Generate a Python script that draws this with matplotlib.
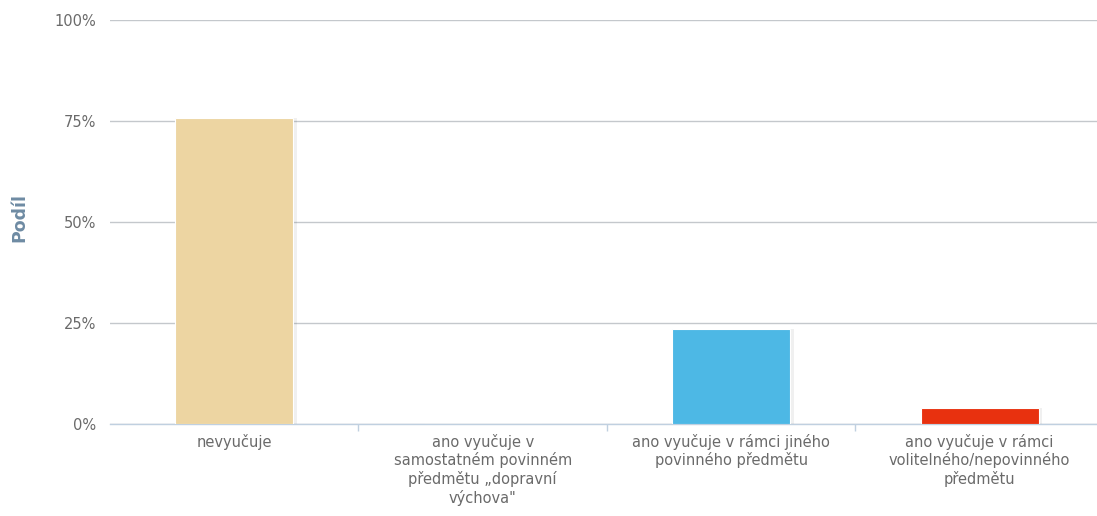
import matplotlib
matplotlib.use("Agg")
import matplotlib.pyplot as plt
from matplotlib.ticker import FixedLocator

plt.rcParams["font.family"] = ["DejaVu Sans"]

categories = [
    "nevyučuje",
    "ano vyučuje v\nsamostatném povinném\npředmětu „dopravní\nvýchova\"",
    "ano vyučuje v rámci jiného\npovinného předmětu",
    "ano vyučuje v rámci\nvolitelného/nepovinného\npředmětu",
]
shares = [75.7, 0.0, 23.4, 4.0]
colors = ["#edd5a2", "#8fd08a", "#4db8e5", "#e8310f"]
yticks = [0, 25, 50, 75, 100]

fig = plt.figure(figsize=(10.97, 5.16), dpi=100)
ax = fig.add_axes([0.1003, 0.1783, 0.906, 0.7829])

x = list(range(len(categories)))
# soft shadow behind each bar
for xi, v in zip(x, shares):
    if v > 0:
        ax.bar(xi + 0.012, v, width=0.48, color="#000000", alpha=0.06, zorder=2)
ax.bar(x, shares, width=0.475, color=colors, zorder=3, edgecolor="white", linewidth=0.8)

ax.set_xlim(-0.5, len(categories) - 0.5)
ax.set_ylim(0, 100)
ax.set_yticks(yticks)
ax.set_yticklabels([f"{t}%" for t in yticks])
ax.yaxis.grid(True, color="#c4c8cc", linewidth=1.0, zorder=0)
ax.set_axisbelow(True)

for s in ["top", "right", "left"]:
    ax.spines[s].set_visible(False)
ax.spines["bottom"].set_color("#c0d0e0")
ax.spines["bottom"].set_linewidth(1.0)

ax.set_xticks(x)
ax.set_xticklabels(categories, fontsize=10.5, color="#6a6a6a", linespacing=1.2)
ax.tick_params(axis="x", which="major", length=0, pad=7)
ax.xaxis.set_minor_locator(FixedLocator([0.5, 1.5, 2.5]))
ax.tick_params(axis="x", which="minor", length=5, color="#c0d0e0", width=1)
ax.tick_params(axis="y", length=0, labelsize=10.5, labelcolor="#6a6a6a", pad=10)

ax.set_ylabel("Podíl", fontsize=12.5, fontweight="bold", color="#6e8ba3")
ax.yaxis.set_label_coords(-0.082, 0.51)

fig.savefig("out.png", dpi=100)
